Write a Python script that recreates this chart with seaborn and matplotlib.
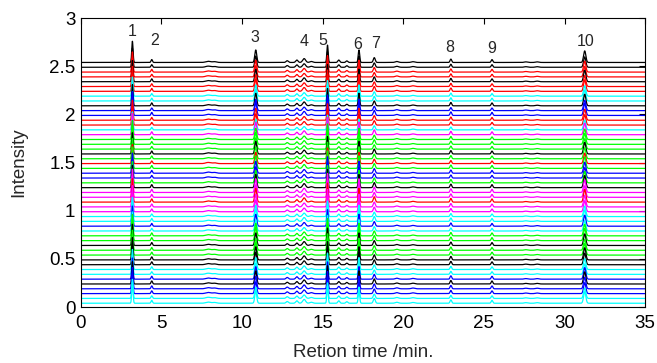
import matplotlib
matplotlib.use("Agg")
import matplotlib.pyplot as plt
import numpy as np
import pandas as pd
import seaborn as sns

# labelled peaks: retention time (min), height, width
peak_times = [3.2, 4.4, 10.85, 13.85, 15.3, 17.25, 18.2, 22.95, 25.5, 31.25]
peak_heights = [0.22, 0.03, 0.13, 0.04, 0.18, 0.13, 0.05, 0.035, 0.03, 0.12]
peak_widths = [0.04, 0.045, 0.06, 0.09, 0.04, 0.045, 0.06, 0.05, 0.05, 0.07]

# small unlabelled bumps
minor_times = [7.9, 8.3, 12.8, 13.4, 14.3, 16.0, 16.5, 19.6, 20.6, 27.6, 28.3]
minor_heights = [0.012, 0.008, 0.018, 0.025, 0.01, 0.025, 0.016, 0.01, 0.008, 0.006, 0.006]
minor_widths = [0.15, 0.12, 0.07, 0.07, 0.09, 0.06, 0.06, 0.1, 0.1, 0.1, 0.1]

# trace colours, top to bottom (k r b c m g)
trace_colors = [
    "k", "k", "r", "r", "k", "r", "r", "c", "c", "k",
    "b", "b", "r", "r", "c", "m", "g", "g", "g", "k",
    "g", "r", "g", "b", "b", "g", "k", "m", "m", "r",
    "m", "m", "c", "c", "b", "c", "g", "g", "k", "g",
    "g", "k", "k", "c", "c", "b", "k", "b", "b", "c", "c",
]
# relative response of each trace, top to bottom
trace_scale = [
    1.0, 0.9, 0.95, 0.9, 1.0, 0.95, 1.0, 0.9, 0.95, 1.0,
    0.9, 1.05, 0.95, 0.9, 0.85, 1.0, 0.9, 0.95, 0.9, 1.0,
    0.95, 0.9, 1.0, 0.95, 0.9, 1.0, 1.05, 1.1, 1.0, 1.1,
    1.0, 0.95, 0.9, 1.0, 0.95, 0.9, 1.0, 1.05, 1.0, 0.95,
    1.0, 1.05, 1.0, 0.95, 0.9, 1.0, 1.05, 1.0, 0.95, 0.9, 1.0,
]
baseline_bottom = 0.04
baseline_step = 0.05

label_text = ["1", "2", "3", "4", "5", "6", "7", "8", "9", "10"]
label_x = [3.2, 4.55, 10.8, 13.85, 15.0, 17.15, 18.3, 22.9, 25.5, 31.3]
label_y = [2.86, 2.77, 2.80, 2.76, 2.77, 2.73, 2.74, 2.70, 2.69, 2.76]

matlab_colors = {"k": "#000000", "r": "#FF0000", "b": "#0000FF",
                 "c": "#00FFFF", "m": "#FF00FF", "g": "#00FF00"}

sns.set_theme(style="white")
plt.rcParams["font.family"] = ["Liberation Sans", "DejaVu Sans"]

t = np.linspace(0, 35, 3501)
n = len(trace_colors)
frames = []
for i in range(n):
    offset = baseline_bottom + baseline_step * (n - 1 - i)
    y = np.full_like(t, offset)
    for t0, h, w in zip(peak_times, peak_heights, peak_widths):
        y += trace_scale[i] * h * np.exp(-((t - t0) ** 2) / (2 * w ** 2))
    for t0, h, w in zip(minor_times, minor_heights, minor_widths):
        y += h * np.exp(-((t - t0) ** 2) / (2 * w ** 2))
    frames.append(pd.DataFrame({"time": t, "intensity": y, "trace": i}))
df = pd.concat(frames, ignore_index=True)

palette = {i: matlab_colors[c] for i, c in enumerate(trace_colors)}

fig = plt.figure(figsize=(6.57, 3.63), dpi=100)
ax = fig.add_axes([0.123, 0.154, 0.859, 0.796])

sns.lineplot(data=df, x="time", y="intensity", hue="trace", palette=palette,
             legend=False, estimator=None, sort=False, linewidth=0.9, ax=ax)

for txt, x, y in zip(label_text, label_x, label_y):
    ax.text(x, y, txt, ha="center", va="center", fontsize=11.5)

ax.set_xlim(0, 35)
ax.set_ylim(0, 3)
ax.set_xticks(np.arange(0, 36, 5))
ax.set_yticks(np.arange(0, 3.01, 0.5))
ax.set_yticklabels(["0", "0.5", "1", "1.5", "2", "2.5", "3"])
ax.tick_params(direction="in", top=True, right=True, length=4, width=0.8,
               labelsize=13.5, colors="black")
ax.tick_params(axis="x", pad=6)
ax.tick_params(axis="y", pad=4)
for s in ax.spines.values():
    s.set_color("black")
    s.set_linewidth(0.8)
ax.set_xlabel("Retion time /min.", fontsize=13.5, labelpad=8)
ax.set_ylabel("Intensity", fontsize=13.5, labelpad=16)

fig.savefig("out.png", dpi=100)
